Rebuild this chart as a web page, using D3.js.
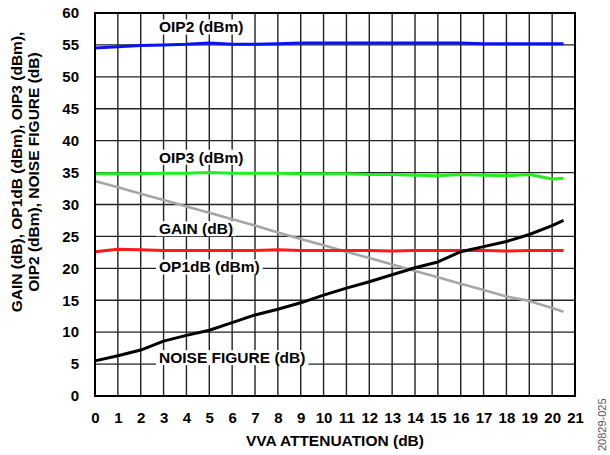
<!DOCTYPE html>
<html><head><meta charset="utf-8">
<script src="https://cdn.jsdelivr.net/npm/d3@7"></script>
<style>
body{margin:0;background:#fff;}
svg text{font-family:"Liberation Sans",Arial,sans-serif;font-weight:bold;}
</style></head>
<body><svg id="c" width="610" height="455"></svg>
<script>
const atten = [0,1,2,3,4,5,6,7,8,9,10,11,12,13,14,15,16,17,18,19,20,20.5];
const oip2  = [54.5,54.7,54.9,55.0,55.1,55.3,55.1,55.1,55.2,55.3,55.3,55.3,55.3,55.3,55.3,55.3,55.3,55.2,55.2,55.2,55.2,55.2];
const oip3  = [34.8,34.8,34.8,34.9,34.9,35.0,34.9,34.9,34.9,34.8,34.8,34.8,34.7,34.7,34.6,34.5,34.7,34.6,34.5,34.7,34.0,34.1];
const gain  = [33.7,32.7,31.7,30.7,29.7,28.7,27.7,26.7,25.6,24.6,23.6,22.6,21.6,20.6,19.6,18.6,17.6,16.6,15.6,14.9,13.8,13.2];
const op1db = [22.6,23.0,22.9,22.8,22.8,22.8,22.8,22.8,22.9,22.8,22.8,22.8,22.8,22.7,22.8,22.8,22.8,22.8,22.7,22.8,22.8,22.8];
const nf    = [5.5,6.3,7.2,8.6,9.5,10.3,11.5,12.7,13.6,14.6,15.8,16.9,17.9,19.0,20.1,21.0,22.6,23.4,24.2,25.3,26.7,27.5];
const xTicks = d3.range(0,22);
const yTicks = d3.range(0,61,5);
const seriesNames = ["OIP2 (dBm)","OIP3 (dBm)","GAIN (dB)","OP1dB (dBm)","NOISE FIGURE (dB)"];
const labelValues = [57.8, 37.4, 26.2, 20.2, 6.0];
const colors = ["#0a14f0","#22ee22","#a6a6a6","#ff1a1a","#000000"];

const svg = d3.select("#c");
const L=95,R=575,T=13,B=396;
const x = d3.scaleLinear().domain([0,21]).range([L,R]);
const y = d3.scaleLinear().domain([0,60]).range([B,T]);
const FT = 15, FL = 15.5;

// grid
const g = svg.append("g");
g.selectAll(".vx").data(xTicks.slice(1,-1)).enter().append("line")
 .attr("x1",d=>x(d)).attr("x2",d=>x(d)).attr("y1",T).attr("y2",B)
 .attr("stroke","#222").attr("stroke-width",1.4);
g.selectAll(".hy").data(yTicks.slice(1,-1)).enter().append("line")
 .attr("y1",d=>y(d)).attr("y2",d=>y(d)).attr("x1",L).attr("x2",R)
 .attr("stroke","#222").attr("stroke-width",1.4);

// axes labels
const xa = d3.axisBottom(x).tickValues(xTicks).tickSize(0).tickPadding(16);
svg.append("g").attr("transform",`translate(0,${B})`).call(xa)
 .call(s=>s.select(".domain").remove())
 .selectAll("text").attr("font-size",FT).attr("fill","#000").attr("font-family","Liberation Sans, Arial").attr("font-weight","bold");
const ya = d3.axisLeft(y).tickValues(yTicks).tickSize(0).tickPadding(16);
svg.append("g").attr("transform",`translate(${L},0)`).call(ya)
 .call(s=>s.select(".domain").remove())
 .selectAll("text").attr("font-size",FT).attr("fill","#000").attr("font-family","Liberation Sans, Arial").attr("font-weight","bold");

// lines
const series=[oip2,oip3,gain,op1db,nf];
const widths=[3,3,2.6,3,3];
const line = d3.line().x((d,i)=>x(atten[i])).y(d=>y(d));
const drawOrder=[2,1,0,3,4];
drawOrder.forEach(k=>{
  svg.append("path").datum(series[k]).attr("d",line).attr("fill","none")
   .attr("stroke",colors[k]).attr("stroke-width",widths[k]).attr("stroke-linejoin","round");
});

// labels with white boxes
const lg = svg.append("g");
seriesNames.forEach((n,k)=>{
  const gg = lg.append("g");
  const r = gg.append("rect").attr("fill","#fff");
  const t = gg.append("text").attr("x",x(2.8)).attr("y",y(labelValues[k])).attr("dy","0.35em")
    .attr("font-size",FL).text(n);
  const bb = t.node().getBBox();
  r.attr("x",bb.x-3).attr("y",bb.y+1).attr("width",bb.width+6).attr("height",bb.height-2);
});

// frame
svg.append("rect").attr("x",L).attr("y",T).attr("width",R-L).attr("height",B-T)
 .attr("fill","none").attr("stroke","#000").attr("stroke-width",2);

// titles
svg.append("text").attr("x",335).attr("y",446).attr("text-anchor","middle").attr("font-size",FL).text("VVA ATTENUATION (dB)");
const yt = svg.append("text").attr("transform","translate(22,172) rotate(-90)").attr("text-anchor","middle").attr("font-size",FL);
yt.append("tspan").attr("x",0).attr("dy",0).text("GAIN (dB), OP1dB (dBm), OIP3 (dBm),");
yt.append("tspan").attr("x",0).attr("dy",17).text("OIP2 (dBm), NOISE FIGURE (dB)");
svg.append("text").attr("transform","translate(606,451) rotate(-90)").attr("font-size",11)
 .style("font-weight","normal").attr("fill","#555").text("20829-025");
</script></body></html>
